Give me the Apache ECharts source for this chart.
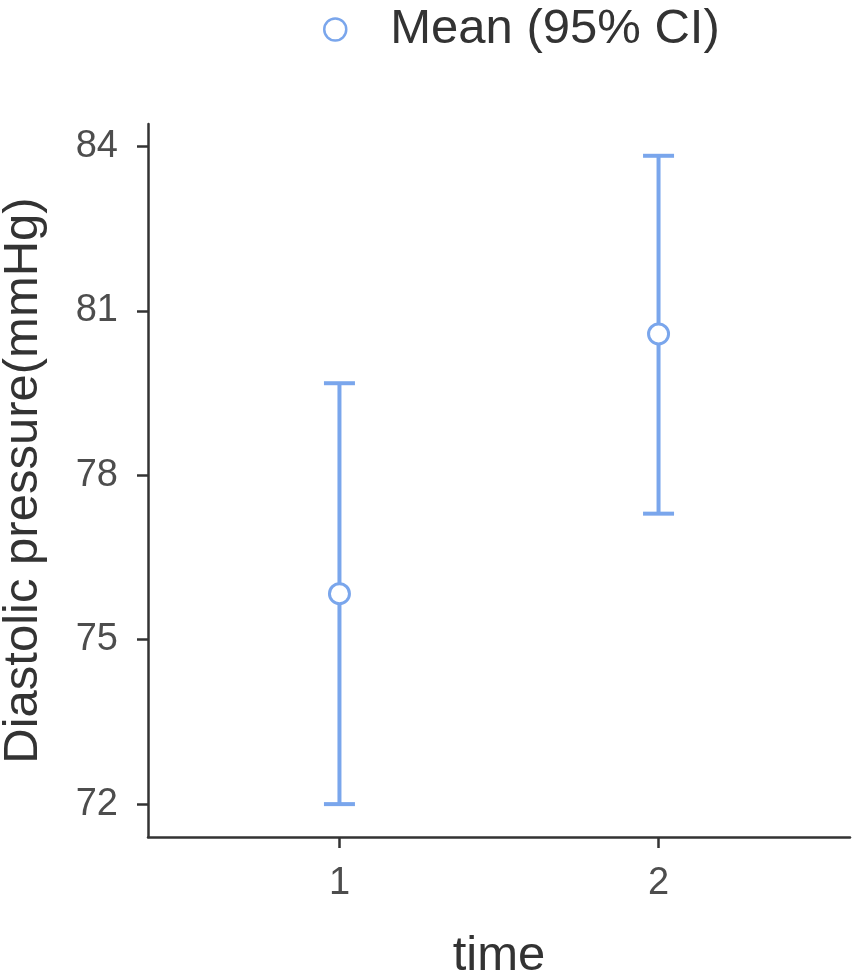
<!DOCTYPE html>
<html>
<head>
<meta charset="utf-8">
<title>Diastolic pressure by time</title>
<script src="https://cdn.jsdelivr.net/npm/echarts@6/dist/echarts.min.js"></script>
<style>
  html, body { margin: 0; padding: 0; background: #fff; }
  #chart { width: 856px; height: 977px; }
</style>
</head>
<body>
<div id="chart"></div>
<script>
// data
const timePoints = [1, 2]
const meanValues = [75.84, 80.58]
const ciLower = [72.0, 77.3]
const ciUpper = [79.68, 83.83]
const yTicks = [72, 75, 78, 81, 84]

const blue = '#7aa6ec'
const ink = '#333333'
const font = 'Liberation Sans, Arial, sans-serif'

const chart = echarts.init(document.getElementById('chart'))

const meanData = timePoints.map((t, i) => [t, meanValues[i]])
const ciData = timePoints.map((t, i) => [t, ciLower[i], ciUpper[i]])

const option = {
  backgroundColor: '#fff',
  animation: false,
  legend: {
    data: ['Mean (95% CI)'],
    left: 318,
    top: 0,
    icon: 'circle',
    itemWidth: 24,
    itemHeight: 22,
    itemStyle: { borderWidth: 2.5 },
    textStyle: {
      fontFamily: font,
      fontSize: 49,
      color: '#333',
      padding: [0, 0, 0, 38]
    }
  },
  grid: {
    left: 148,
    right: 6,
    top: 124,
    bottom: 140,
    outerBoundsMode: 'none'
  },
  xAxis: {
    type: 'value',
    min: 0.4,
    max: 2.6,
    name: 'time',
    nameLocation: 'middle',
    nameGap: 95,
    nameTextStyle: { fontFamily: font, fontSize: 49, color: '#333' },
    splitLine: { show: false },
    axisLine: { lineStyle: { color: ink, width: 2.5 } },
    axisTick: { length: 11, lineStyle: { color: ink, width: 2.5 }, customValues: timePoints },
    axisLabel: { fontFamily: font, fontSize: 38, color: '#4d4d4d', margin: 28, customValues: timePoints }
  },
  yAxis: {
    type: 'value',
    min: 71.4,
    max: 84.41,
    name: 'Diastolic pressure(mmHg)',
    nameLocation: 'middle',
    nameGap: 100,
    nameTextStyle: { fontFamily: font, fontSize: 49, color: '#333' },
    splitLine: { show: false },
    axisLine: { show: true, lineStyle: { color: ink, width: 2.5 } },
    axisTick: { show: true, length: 11, lineStyle: { color: ink, width: 2.5 }, customValues: yTicks },
    axisLabel: { fontFamily: font, fontSize: 38, color: '#4d4d4d', margin: 30, customValues: yTicks }
  },
  series: [
    {
      name: 'ci',
      type: 'custom',
      data: ciData,
      encode: { x: 0, y: [1, 2] },
      z: 2,
      renderItem: function (params, api) {
        const x = api.value(0)
        const lo = api.coord([x, api.value(1)])
        const hi = api.coord([x, api.value(2)])
        const half = 15.5
        const style = { stroke: blue, lineWidth: 4, fill: null }
        return {
          type: 'group',
          children: [
            { type: 'line', shape: { x1: lo[0], y1: lo[1], x2: hi[0], y2: hi[1] }, style: style },
            { type: 'line', shape: { x1: hi[0] - half, y1: hi[1], x2: hi[0] + half, y2: hi[1] }, style: style },
            { type: 'line', shape: { x1: lo[0] - half, y1: lo[1], x2: lo[0] + half, y2: lo[1] }, style: style }
          ]
        }
      }
    },
    {
      name: 'Mean (95% CI)',
      type: 'scatter',
      data: meanData,
      symbol: 'circle',
      symbolSize: 20,
      z: 3,
      itemStyle: { color: '#fff', borderColor: blue, borderWidth: 3, opacity: 1 }
    }
  ]
}

chart.setOption(option)
</script>
</body>
</html>
